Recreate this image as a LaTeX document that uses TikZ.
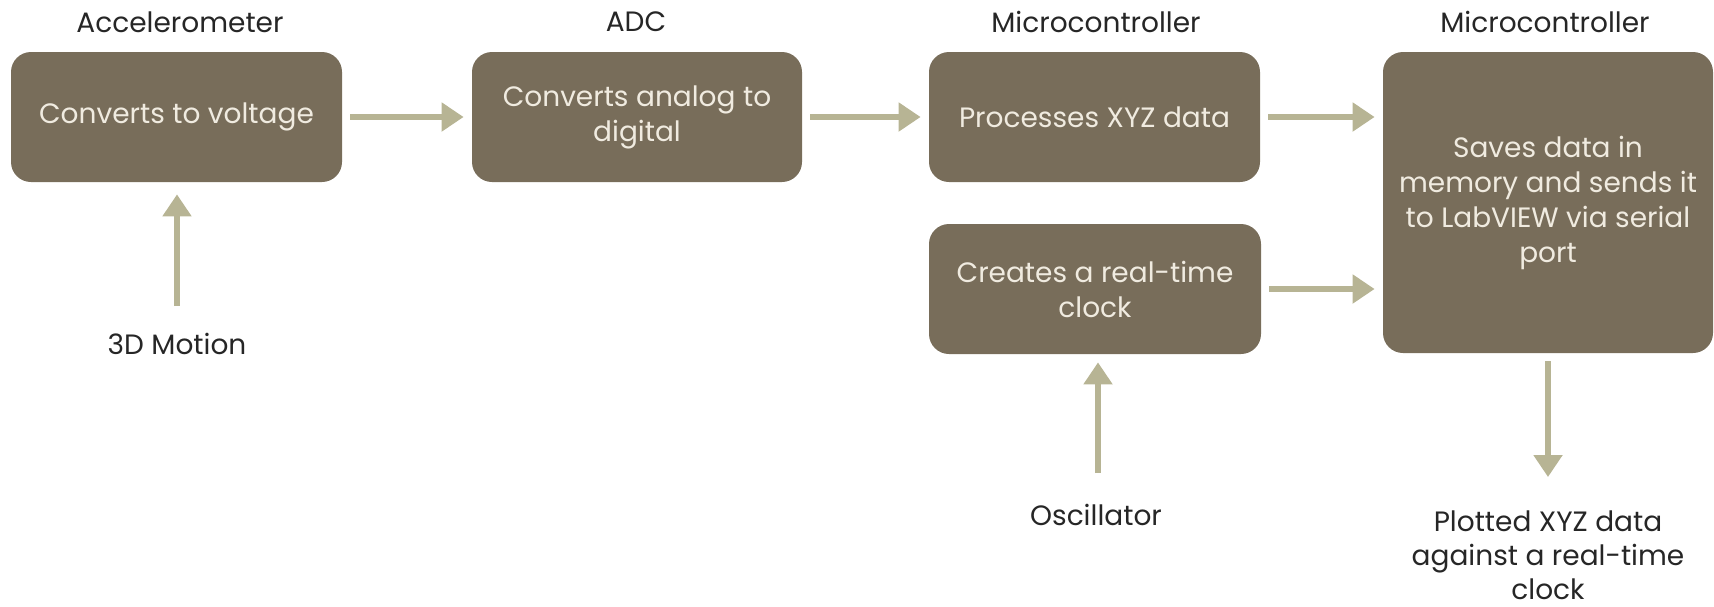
\documentclass[tikz,border=0pt]{standalone}
\usepackage{fontspec}
\setmainfont{Poppins}
\usetikzlibrary{arrows.meta}
\definecolor{boxfill}{RGB}{120,109,90}
\definecolor{arrowcol}{RGB}{183,180,148}
\definecolor{boxtext}{RGB}{240,235,224}
\definecolor{labeltext}{RGB}{38,38,38}
\tikzset{
  stage/.style={draw=none, fill=boxfill, rounded corners=10pt, text=boxtext,
    align=center, inner sep=0pt, font=\fontsize{14}{17.5}\selectfont},
  title/.style={text=labeltext, font=\fontsize{14}{17}\selectfont, inner sep=0pt},
  io/.style={text=labeltext, align=center, font=\fontsize{14}{17}\selectfont, inner sep=0pt},
  flow/.style={draw=arrowcol, line width=2.6pt,
    -{Triangle[width=14pt,length=11pt]}, shorten <=4pt, shorten >=4pt},
}
\begin{document}
\begin{tikzpicture}[x=0.5pt, y=-0.5pt]
  \useasboundingbox (0,0) rectangle (1714,606);
  % processing stages
  \node[stage, minimum width=165.5pt, minimum height=65pt] (acc) at (176.5,117) {Converts to voltage};
  \node[stage, minimum width=165pt, minimum height=65pt] (adc) at (637,117) {Converts analog to\\digital};
  \node[stage, minimum width=165.5pt, minimum height=65pt] (proc) at (1094.5,117) {Processes XYZ data};
  \node[stage, minimum width=166pt, minimum height=65pt] (rtc) at (1095,289) {Creates a real-time\\clock};
  \node[stage, minimum width=165pt, minimum height=150.5pt] (save) at (1548,202.5)
    {Saves data in\\memory and sends it\\to LabVIEW via serial\\port};
  % stage headings
  \node[title] (tacc) at (180,22) {Accelerometer};
  \node[title] (tadc) at (636,22) {ADC};
  \node[title] (tproc) at (1096,22) {Microcontroller};
  \node[title] (tsave) at (1545,22) {Microcontroller};
  % inputs and output
  \node[io] (motion) at (177,344) {3D Motion};
  \node[io] (osc) at (1096,515) {Oscillator};
  \node[io] (plot) at (1548,555) {Plotted XYZ data\\against a real-time\\clock};
  \coordinate (motiontop) at (177,306);
  \coordinate (osctop) at (1098,473);
  \coordinate (plottop) at (1548,477);
  % connectors
  \draw[flow] (acc.east) -- (adc.west);
  \draw[flow] (adc.east) -- (proc.west);
  \draw[flow] (proc.east) -- (save.west |- proc.east);
  \draw[flow] (rtc.east) -- (save.west |- rtc.east);
  \draw[flow, shorten <=0pt, shorten >=6pt] (motiontop) -- (motiontop |- acc.south);
  \draw[flow, shorten <=0pt] (osctop) -- (osctop |- rtc.south);
  \draw[flow, shorten >=0pt] (plottop |- save.south) -- (plottop);
\end{tikzpicture}
\end{document}
